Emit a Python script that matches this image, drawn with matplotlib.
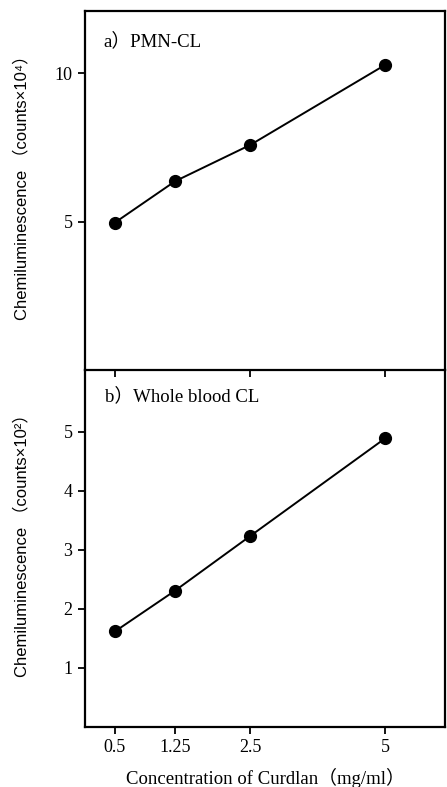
import numpy as np
import matplotlib
matplotlib.use('Agg')
import matplotlib.pyplot as plt

# Data
conc = [0.5, 1.25, 2.5, 5]
conc_labels = ['0.5', '1.25', '2.5', '5']
pmn_cl = [4.97, 6.36, 7.59, 10.28]      # counts x 10^4
blood_cl = [1.62, 2.31, 3.24, 4.89]     # counts x 10^2

SERIF = ['Liberation Serif', 'Noto Sans CJK JP']
SANS = ['Liberation Sans', 'Noto Sans CJK JP']

# the original x axis is neither linear nor log; map it piecewise
_knots_c = np.array([0.125, 0.5, 1.25, 2.5, 5.0, 6.115])
_knots_p = np.array([-30.0, 0.0, 60.0, 135.5, 270.0, 330.0])

def fwd(x):
    return np.interp(x, _knots_c, _knots_p)

def inv(p):
    return np.interp(p, _knots_p, _knots_c)

W, H = 447, 787
fig = plt.figure(figsize=(W / 100, H / 100), dpi=100)

def px_axes(left, top, right, bottom):
    return fig.add_axes([left / W, 1 - bottom / H, (right - left) / W, (bottom - top) / H])

ax1 = px_axes(85, 11, 445, 370)
ax2 = px_axes(85, 370, 445, 727)
# keep the shared border and the upper panel's ticks visible
ax2.patch.set_alpha(0)
ax1.set_zorder(3)
ax1.patch.set_alpha(0)

for ax in (ax1, ax2):
    ax.set_xscale('function', functions=(fwd, inv))
    ax.set_xlim(0.125, 6.115)
    for s in ax.spines.values():
        s.set_linewidth(1.6)
    ax.tick_params(direction='out', length=5, width=1.3, pad=4)

ax2.spines['top'].set_visible(False)

# a) PMN-CL
ax1.plot(conc, pmn_cl, color='black', lw=1.4, marker='o', ms=8.5)
ax1.set_ylim(0, 12.1)
ax1.set_yticks([5, 10])
ax1.set_yticklabels(['5', '10'], family=SERIF, fontsize=13)
ax1.set_xticks([0.5, 2.5, 5])
ax1.set_xticklabels([])
ax1.text(0.05, 0.915, 'a）PMN-CL', transform=ax1.transAxes, family=SERIF,
         fontsize=13.5, ha='left', va='center')
ax1.set_ylabel('Chemiluminescence （counts×10⁴）', family=SANS, fontsize=12)

# b) Whole blood CL
ax2.plot(conc, blood_cl, color='black', lw=1.4, marker='o', ms=8.5)
ax2.set_ylim(0, 6.05)
ax2.set_yticks([1, 2, 3, 4, 5])
ax2.set_yticklabels(['1', '2', '3', '4', '5'], family=SERIF, fontsize=13)
ax2.set_xticks(conc)
ax2.set_xticklabels(conc_labels, family=SERIF, fontsize=13)
ax2.text(0.055, 0.925, 'b）Whole blood CL', transform=ax2.transAxes, family=SERIF,
         fontsize=13.5, ha='left', va='center')
ax2.set_ylabel('Chemiluminescence （counts×10²）', family=SANS, fontsize=12)
ax2.set_xlabel('Concentration of Curdlan（mg/ml）', family=SERIF, fontsize=13.5, labelpad=8)

ax1.yaxis.set_label_coords(-0.155, 0.52)
ax2.yaxis.set_label_coords(-0.155, 0.52)

fig.savefig('out.png', dpi=100)
